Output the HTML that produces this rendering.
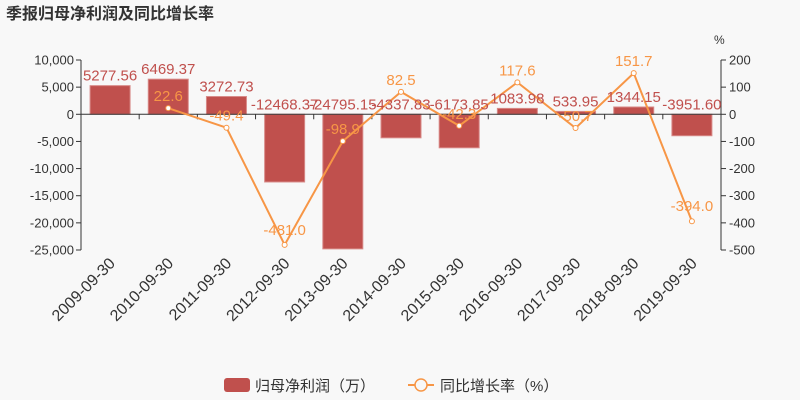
<!DOCTYPE html>
<html><head><meta charset="utf-8">
<style>
body{margin:0;background:#f8f8f8;}
svg{display:block;font-family:"Liberation Sans","DejaVu Sans","Noto Sans CJK SC",sans-serif;}
</style></head>
<body>
<svg id="c" width="800" height="400" viewBox="0 0 800 400">
<rect width="800" height="400" fill="#f8f8f8"/>
<text x="6" y="19" font-size="16" font-weight="bold" fill="#333" font-family="'Liberation Sans','Noto Sans CJK SC',sans-serif">季报归母净利润及同比增长率</text>
<text x="714" y="44" font-size="12" fill="#333">%</text>
<g id="g"></g>
<g>
<g><rect x="224" y="378" width="26" height="14" rx="3" fill="#c0504d"/>
<text x="255" y="391" font-size="15" fill="#333" font-family="'Liberation Sans','Noto Sans CJK SC',sans-serif">归母净利润（万）</text></g>
<g><line x1="408" y1="385" x2="434" y2="385" stroke="#f79646" stroke-width="2"/><circle cx="421" cy="385" r="6" fill="#f8f8f8" stroke="#f79646" stroke-width="1.5"/>
<text x="440" y="391" font-size="15" fill="#333" font-family="'Liberation Sans','Noto Sans CJK SC',sans-serif">同比增长率（%）</text></g>
</g>
</svg>
<script>
const categories=["2009-09-30","2010-09-30","2011-09-30","2012-09-30","2013-09-30","2014-09-30","2015-09-30","2016-09-30","2017-09-30","2018-09-30","2019-09-30"];
const profit=[5277.56,6469.37,3272.73,-12468.37,-24795.15,-4337.83,-6173.85,1083.98,533.95,1344.15,-3951.60];
const growth=[null,22.6,-49.4,-481.0,-98.9,82.5,-42.3,117.6,-50.7,151.7,-394.0];
const leftTicks=[10000,5000,0,-5000,-10000,-15000,-20000,-25000];
const rightTicks=[200,100,0,-100,-200,-300,-400,-500];
const NS="http://www.w3.org/2000/svg";
const g=document.getElementById('g');
const X0=81,X1=721,YT=60,YB=250;
const cw=(X1-X0)/categories.length;
const xc=i=>X0+cw*(i+0.5);
const yL=v=>YT+(10000-v)/35000*(YB-YT);
const yR=v=>YT+(200-v)/700*(YB-YT);
function el(t,a,txt){const e=document.createElementNS(NS,t);for(const k in a)e.setAttribute(k,a[k]);if(txt!=null)e.textContent=txt;g.appendChild(e);return e;}
const fmt=n=>n.toLocaleString('en-US');
// axes
let e;
e=el('line',{x1:X0,y1:YT,x2:X0,y2:YB,stroke:'#333'});


e=el('line',{x1:X1,y1:YT,x2:X1,y2:YB,stroke:'#333'});


leftTicks.forEach(v=>{const y=yL(v);el('line',{x1:X0-5,y1:y,x2:X0,y2:y,stroke:'#333'});
 e=el('text',{x:X0-7,y:y+4.5,'font-size':13,fill:'#333','text-anchor':'end'},fmt(v));
 
 });
rightTicks.forEach(v=>{const y=yR(v);el('line',{x1:X1,y1:y,x2:X1+5,y2:y,stroke:'#333'});
 e=el('text',{x:X1+8,y:y+4.5,'font-size':13,fill:'#333'},String(v));
 
 });
// bars
profit.forEach((v,i)=>{const y0=yL(0),y=yL(v);
 e=el('rect',{x:xc(i)-20,y:Math.min(y,y0),width:40,height:Math.abs(y-y0),fill:'#c0504d',stroke:'#d88a88','stroke-width':1});
 
 });
// zero line
e=el('line',{x1:X0,y1:yL(0),x2:X1,y2:yL(0),stroke:'#333'});


categories.forEach((c,i)=>{if(i>0)el('line',{x1:X0+cw*i,y1:yL(0),x2:X0+cw*i,y2:yL(0)+5,stroke:'#333'});
 const x=xc(i)+6,y=yL(0)+150;
 e=el('text',{x:x,y:y,'font-size':16,fill:'#333','text-anchor':'end',transform:`rotate(-45 ${x} ${y})`},c);
 
 });
// line
let pts=[];growth.forEach((v,i)=>{if(v!=null)pts.push([xc(i),yR(v)]);});
e=el('polyline',{points:pts.map(p=>p.join(',')).join(' '),fill:'none',stroke:'#f79646','stroke-width':2});


growth.forEach((v,i)=>{if(v==null)return;
 e=el('circle',{cx:xc(i),cy:yR(v),r:2.5,fill:'#fff',stroke:'#f79646','stroke-width':1});
 
 });
// bar labels
profit.forEach((v,i)=>{const y=v>=0?yL(v)-5:yL(0)-5;
 e=el('text',{x:xc(i),y:y,'font-size':15,fill:'#c0504d','text-anchor':'middle'},v.toFixed(2));
 
 });
// growth labels
growth.forEach((v,i)=>{if(v==null)return;
 const y=v<-300?yR(v)-10:yR(v)-7;
 e=el('text',{x:xc(i),y:y,'font-size':15,fill:'#f79646','text-anchor':'middle'},v.toFixed(1));
 
 });
</script>
</body></html>
